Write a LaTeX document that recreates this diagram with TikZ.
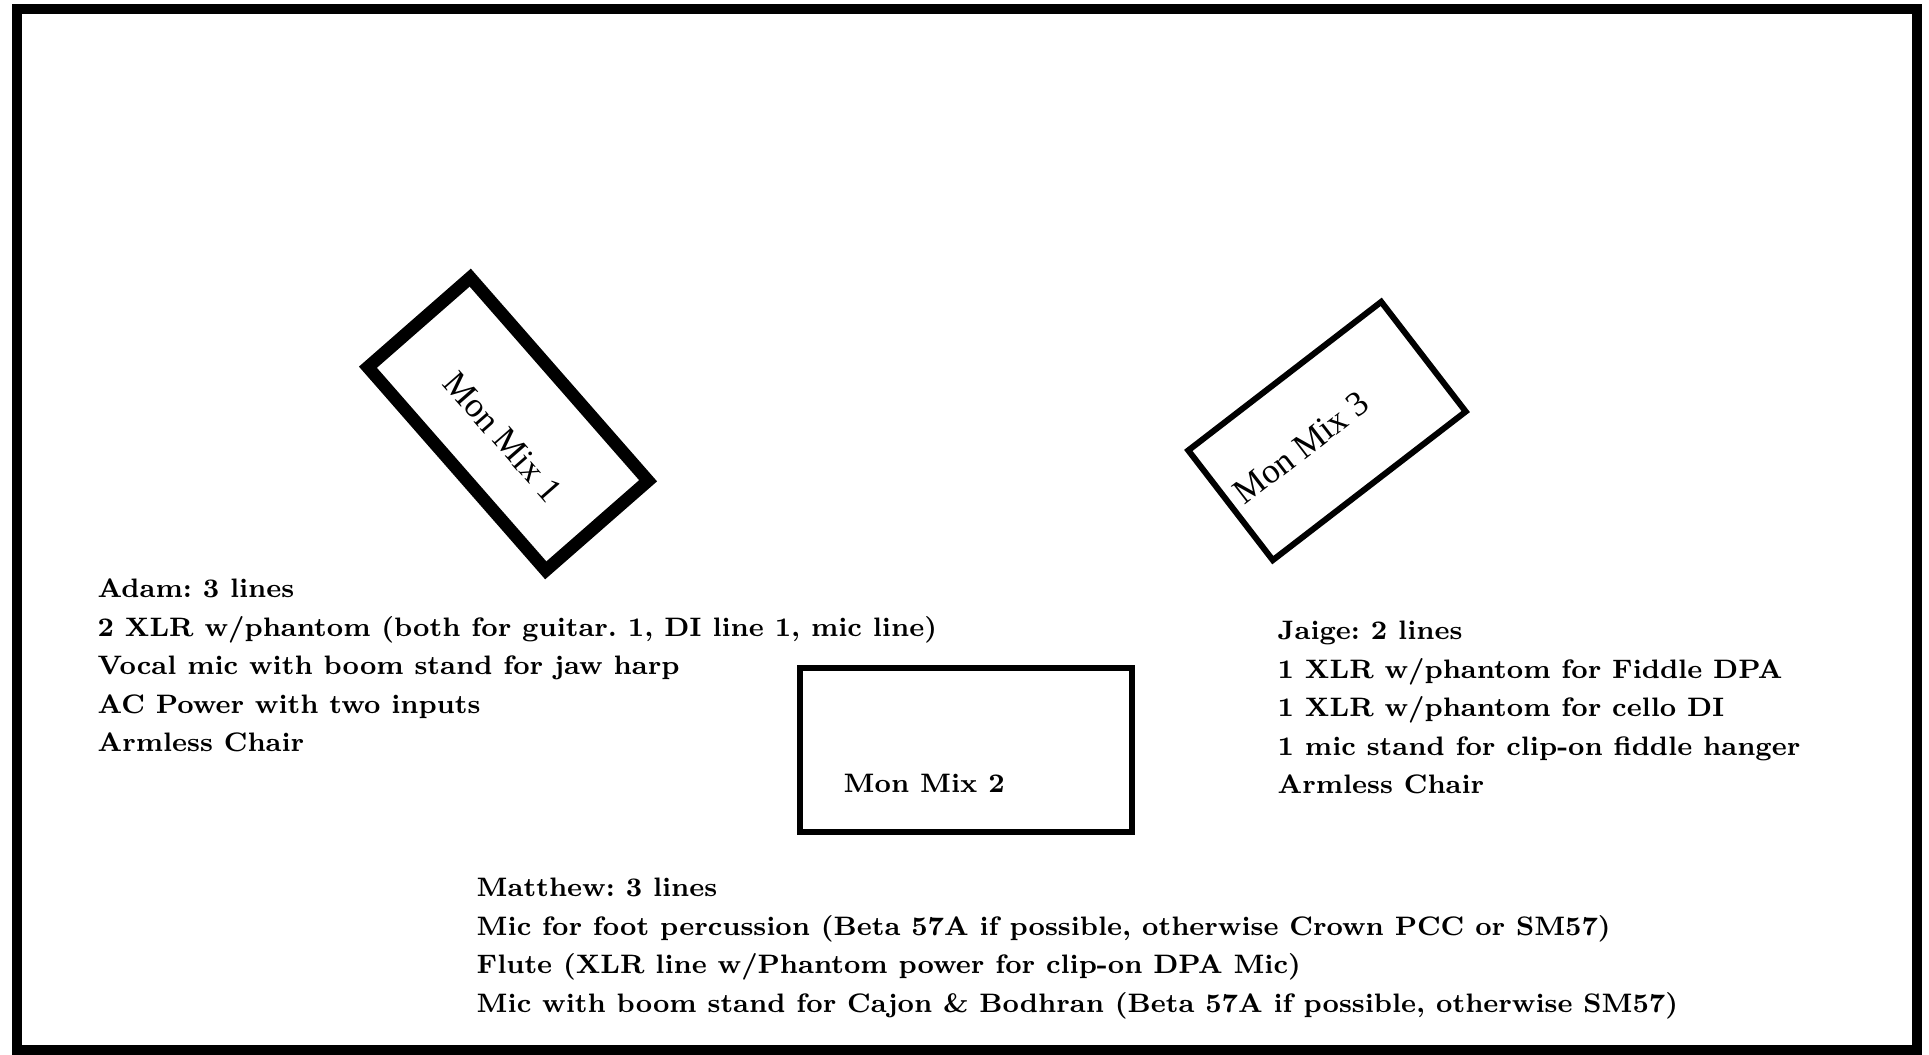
\documentclass[tikz,border=0pt]{standalone}
\usepackage{fontspec}
\newfontfamily\timesfont{Liberation Serif}
\usepackage{tikz}
\frenchspacing

\begin{document}
\begin{tikzpicture}[scale=1.0,
  mixbox/.style={draw, line width=0.06cm, inner sep=0pt},
  mixlabel/.style={font=\timesfont\fontsize{10}{12}\selectfont, inner sep=0pt},
  infotext/.style={font=\bfseries\fontsize{7.6}{10.95}\selectfont, align=left, inner sep=0pt}]

  \useasboundingbox (0,0) rectangle (19.29,10.54);

  % Stage outline
  \draw[line width=0.1cm] (0.17,0.04) rectangle (19.165,10.454);

  % Monitor mixes
  \node[mixbox, line width=0.127cm, rotate=-48.8, minimum width=2.70cm, minimum height=1.36cm] (mix1) at (5.08,6.30) {};
  \node[mixlabel, rotate=-48.8] (mix1label) at (5.03,6.17) {Mon Mix 1};

  \node[mixbox, minimum width=3.325cm, minimum height=1.645cm] (mix2) at (9.66,3.0375) {};
  \node[infotext, anchor=base west] (mix2label) at (8.43,2.61) {Mon Mix 2};

  \node[mixbox, rotate=37.6, minimum width=2.435cm, minimum height=1.385cm] (mix3) at (13.27,6.23) {};
  \node[mixlabel, rotate=37.6] (mix3label) at (13.01,6.06) {Mon Mix 3};

  % Players
  \node[infotext, anchor=north west] (adam) at (0.97,4.756)
    {Adam: 3 lines\\
     2 XLR w/phantom (both for guitar. 1, DI line 1, mic line)\\
     Vocal mic with boom stand for jaw harp\\
     AC Power with two inputs\\
     Armless Chair};

  \node[infotext, anchor=north west] (jaige) at (12.77,4.336)
    {Jaige: 2 lines\\
     1 XLR w/phantom for Fiddle DPA\\
     1 XLR w/phantom for cello DI\\
     1 mic stand for clip-on fiddle hanger\\
     Armless Chair};

  \node[infotext, anchor=north west] (matthew) at (4.76,1.766)
    {Matthew: 3 lines\\
     Mic for foot percussion (Beta 57A if possible, otherwise Crown PCC or SM57)\\
     Flute (XLR line w/Phantom power for clip-on DPA Mic)\\
     Mic with boom stand for Cajon \& Bodhran (Beta 57A if possible, otherwise SM57)};

\end{tikzpicture}
\end{document}
